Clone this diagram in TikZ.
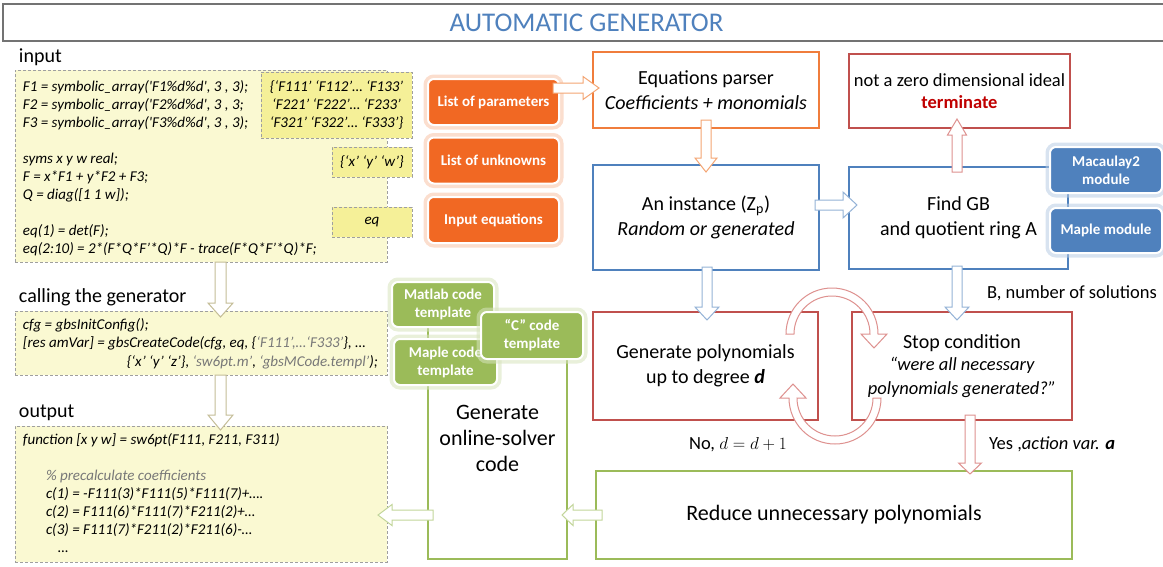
\documentclass[tikz,border=0pt]{standalone}
\usepackage{fontspec}
\setmainfont{Carlito}
\usetikzlibrary{calc}
\definecolor{orangeB}{RGB}{241,104,35}
\definecolor{orangeP}{RGB}{240,125,60}
\definecolor{orangeL}{RGB}{244,165,115}
\definecolor{blueB}{RGB}{79,129,189}
\definecolor{blueL}{RGB}{149,179,215}
\definecolor{redB}{RGB}{192,80,77}
\definecolor{redL}{RGB}{222,145,143}
\definecolor{redT}{RGB}{192,0,0}
\definecolor{greenB}{RGB}{155,187,89}
\definecolor{greenL}{RGB}{195,214,155}
\definecolor{tanL}{RGB}{196,189,151}
\definecolor{yelL}{RGB}{250,249,210}
\definecolor{yelD}{RGB}{245,240,152}
\definecolor{strG}{RGB}{120,120,120}
\newcommand\fmain{\fontsize{20}{24.5}\selectfont}
\newcommand\fsmall{\fontsize{18.5}{22.5}\selectfont}
\newcommand\fbig{\fontsize{22}{26}\selectfont}
\newcommand\fcode{\fontsize{15}{17.9}\selectfont\itshape}
\newcommand\fbtn{\fontsize{15}{18}\selectfont\bfseries}
\newcommand\sq{\textquotesingle}
\newcommand\blkdown[6]{\draw[blk=#1] let \p1=(#2), \p2=(#3) in (\x1-#4pt,\y1) -- (\x1-#4pt,\y2+#6pt) -- (\x1-#5pt,\y2+#6pt) -- (\x1,\y2) -- (\x1+#5pt,\y2+#6pt) -- (\x1+#4pt,\y2+#6pt) -- (\x1+#4pt,\y1) -- cycle;}
\newcommand\blkup[6]{\draw[blk=#1] let \p1=(#2), \p2=(#3) in (\x1-#4pt,\y1) -- (\x1-#4pt,\y2-#6pt) -- (\x1-#5pt,\y2-#6pt) -- (\x1,\y2) -- (\x1+#5pt,\y2-#6pt) -- (\x1+#4pt,\y2-#6pt) -- (\x1+#4pt,\y1) -- cycle;}
\newcommand\blkright[6]{\draw[blk=#1] let \p1=(#2), \p2=(#3) in (\x1,\y1-#4pt) -- (\x2-#6pt,\y1-#4pt) -- (\x2-#6pt,\y1-#5pt) -- (\x2,\y1) -- (\x2-#6pt,\y1+#5pt) -- (\x2-#6pt,\y1+#4pt) -- (\x1,\y1+#4pt) -- cycle;}
\newcommand\blkleft[6]{\draw[blk=#1] let \p1=(#2), \p2=(#3) in (\x1,\y1-#4pt) -- (\x2+#6pt,\y1-#4pt) -- (\x2+#6pt,\y1-#5pt) -- (\x2,\y1) -- (\x2+#6pt,\y1+#5pt) -- (\x2+#6pt,\y1+#4pt) -- (\x1,\y1+#4pt) -- cycle;}
\begin{document}
\begin{tikzpicture}[x=1pt, y=-1pt,
  every node/.style={inner sep=0pt, outer sep=0pt},
  box/.style={draw, line width=1.4pt, fill=white, align=center, font=\fmain},
  codebox/.style={draw=gray!75, dash pattern=on 3pt off 2pt, line width=0.9pt, fill=yelL},
  subbox/.style={codebox, fill=yelD, font=\fcode, align=center},
  btn/.style={rounded corners=6pt, fill=#1, draw=white, line width=2pt, text=white, font=\fbtn, align=center,
    preaction={draw=#1!40, line width=9pt, opacity=0.55}},
  code/.style={font=\fcode, align=left, anchor=north west},
  lbl/.style={font=\fmain, anchor=west},
  blk/.style={draw=#1, fill=white, line width=1pt, line join=miter}]
\useasboundingbox (0,0) rectangle (1163,566);
\fill[white] (0,0) rectangle (1163,566);

% title
\node[draw=gray!90!black, line width=1.8pt, minimum width=1167, minimum height=37, font=\fontsize{27}{30}\selectfont, text=blueB] (title) at (586.5,22.5) {AUTOMATIC GENERATOR};

% left column
\node[lbl] (linput) at (19,57) {input};
\node[codebox, minimum width=372, minimum height=192] (inbox) at (201,166) {};
\node[subbox, minimum width=151, minimum height=66] (parbox) at (336.5,105) {\{‘F111’ ‘F112’… ‘F133’\\‘F221’ ‘F222’… ‘F233’\\‘F321’ ‘F322’… ‘F333’\}};
\node[subbox, minimum width=80, minimum height=30] (xywbox) at (372,162) {\{‘x’ ‘y’ ‘w’\}};
\node[subbox, minimum width=80, minimum height=30] (eqbox) at (372,222) {eq};
\node[code] (incode) at (23,81) {F1 = symbolic\_array(\sq F1\%d\%d\sq, 3 , 3);\\F2 = symbolic\_array(\sq F2\%d\%d\sq, 3 , 3;\\F3 = symbolic\_array(\sq F3\%d\%d\sq, 3 , 3);\\[17.9pt]syms x y w real;\\F = x*F1 + y*F2 + F3;\\Q = diag([1 1 w]);\\[17.9pt]eq(1) = det(F);\\eq(2:10) = 2*(F*Q*F’*Q)*F - trace(F*Q*F’*Q)*F;};

\node[lbl] (lcall) at (19,297) {calling the generator};
\node[codebox, minimum width=372, minimum height=64] (callbox) at (201,343) {};
\node[code] (callA) at (23,319) {cfg = gbsInitConfig();\\{[}res amVar{]} = gbsCreateCode(cfg, eq, \{\textcolor{strG}{‘F111’,…‘F333’}\}, …};
\node[font=\fcode, anchor=base east] (callB) at (378,366) {\{‘x’ ‘y’ ‘z’\}, \textcolor{strG}{‘sw6pt.m’}, \textcolor{strG}{‘gbsMCode.templ’});};

\node[lbl] (lout) at (19,413) {output};
\node[codebox, minimum width=372, minimum height=136] (outbox) at (201,494) {};
\node[code] (outA) at (23,434) {function [x y w] = sw6pt(F111, F211, F311)};
\node[code] (outB) at (46,470) {\textcolor{strG}{\% precalculate coefficients}\\c(1) = -F111(3)*F111(5)*F111(7)+….\\c(2) = F111(6)*F111(7)*F211(2)+…\\c(3) = F111(7)*F211(2)*F211(6)-…\\\hspace*{12pt}…};

% orange buttons
\node[btn=orangeB, minimum width=131, minimum height=46] (bpar) at (493.5,102) {List of parameters};
\node[btn=orangeB, minimum width=131, minimum height=46] (bunk) at (493.5,160.5) {List of unknowns};
\node[btn=orangeB, minimum width=131, minimum height=46] (beq) at (493.5,220) {Input equations};

% main boxes
\node[box, draw=orangeP, minimum width=226, minimum height=76] (parser) at (706,90) {Equations parser\\\textit{Coefficients + monomials}};
\node[box, draw=blueB, minimum width=226, minimum height=105] (inst) at (706,217.5) {An instance (Z\textsubscript{p})\\\textit{Random or generated}};
\node[box, draw=redB, minimum width=221, minimum height=74, font=\fsmall] (term) at (959.5,91) {not a zero dimensional ideal\\\textcolor{redT}{\textbf{terminate}}};
\node[box, draw=blueB, minimum width=219, minimum height=102] (findgb) at (958.5,218) {Find GB\\and quotient ring A};
\node[btn=blueB, minimum width=112, minimum height=46] (mmac) at (1106,170) {Macaulay2\\module};
\node[btn=blueB, minimum width=112, minimum height=45] (mmap) at (1106,230.5) {Maple module};

\node[box, draw=redB, minimum width=225, minimum height=108] (genp) at (705.5,366) {Generate polynomials\\up to degree \textbf{\textit{d}}};
\node[box, draw=redB, minimum width=220, minimum height=108] (stop) at (962,366) {Stop condition\\[-2pt]\fsmall\itshape “were all necessary\\[-1pt]\fsmall\itshape polynomials generated?”};
\node[box, draw=greenB, minimum width=476, minimum height=88, font=\fbig] (reduce) at (834,515) {Reduce unnecessary polynomials};
\node[box, draw=greenB, minimum width=139, minimum height=241, font=\fbig] (genon) at (497.5,438.5) {Generate\\online-solver\\code};

\node[btn=greenB, minimum width=102, minimum height=45] (tmat) at (443,304.5) {Matlab code\\template};
\node[btn=greenB, minimum width=103, minimum height=46] (tmap) at (445.5,362) {Maple code\\template};
\node[btn=greenB, minimum width=102, minimum height=47] (tc) at (532,335.5) {“C” code\\template};

% labels
\node[font=\fsmall, anchor=west] (lbsol) at (987,293) {B, number of solutions};
\node[font=\fsmall] (lno) at (738,445) {No, $d=d+1$};
\node[font=\fsmall, anchor=west] (lyes) at (989,444) {Yes ,\textit{action var. \textbf{a}}};

% block arrows
\blkright{orangeL}{$(bpar.east)+(-6,-14)$}{$(parser.west)+(6,0)$}{5}{11.5}{16}
\blkdown{orangeL}{$(parser.south)+(0,-8)$}{$(inst.north)+(0,7)$}{5}{11}{14}
\blkright{blueL}{$(inst.east)+(-4,-12.5)$}{$(findgb.west)+(8,0)$}{5}{13}{14}
\blkup{redL}{$(findgb.north)+(-1.5,5)$}{$(term.south)+(0,-9)$}{5}{9.5}{16}
\blkdown{blueL}{$(inst.south)+(1,-3)$}{$(genp.north)+(0,8)$}{5}{12}{13}
\blkdown{blueL}{$(findgb.south)+(-1.5,-3)$}{$(stop.north)+(0,8)$}{5}{12}{13}
\blkdown{redL}{$(stop.south)+(8,-5)$}{$(reduce.north)+(0,3)$}{5}{11.5}{11}
\blkleft{greenL}{$(reduce.west)+(6,0)$}{$(genon.east)+(-5,0)$}{5}{10.5}{11}
\blkleft{greenL}{$(genon.west)+(5,76.5)$}{$(outbox.east)+(-9,0)$}{5}{10.5}{14}
\blkdown{tanL}{$(inbox.south)+(19.5,0)$}{$(callbox.north)+(19.5,6)$}{5.5}{12.5}{14}
\blkdown{tanL}{$(callbox.south)+(19.5,0)$}{$(outbox.north)+(19.5,4)$}{5.5}{12.5}{15}

% circular arrows
\coordinate (ctop) at (832,334);
\coordinate (cbot) at (835,398);
\draw[blk=redL] ($(ctop)+(-46pt,0pt)$) arc[start angle=180, end angle=0, radius=46pt] -- ++(9pt,0pt) -- ($(ctop)+(42pt,-14pt)$) -- ($(ctop)+(29pt,0pt)$) -- ($(ctop)+(38pt,0pt)$) arc[start angle=0, end angle=180, radius=38pt] -- cycle;
\draw[blk=redL] ($(cbot)+(46pt,0pt)$) arc[start angle=0, end angle=-180, radius=46pt] -- ++(-9pt,0pt) -- ($(cbot)+(-42pt,14pt)$) -- ($(cbot)+(-29pt,0pt)$) -- ($(cbot)+(-38pt,0pt)$) arc[start angle=180, end angle=360, radius=38pt] -- cycle;
\end{tikzpicture}
\end{document}
